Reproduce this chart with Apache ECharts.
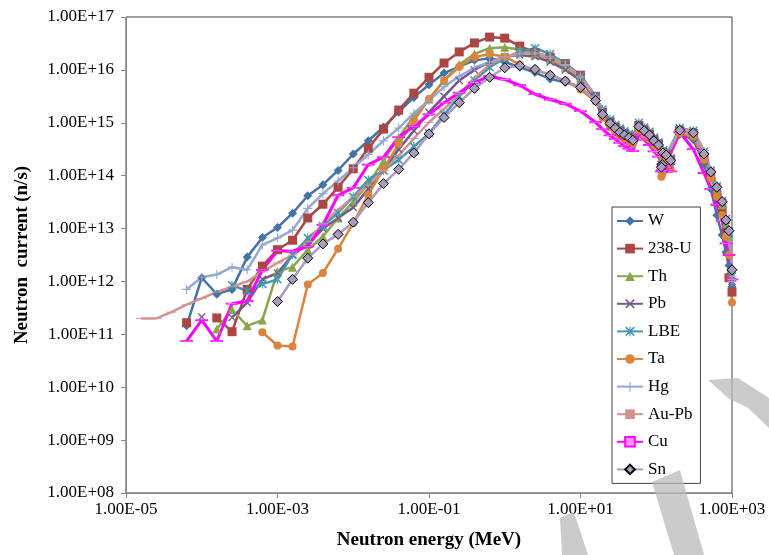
<!DOCTYPE html>
<html>
<head>
<meta charset="utf-8">
<script src="https://cdn.jsdelivr.net/npm/echarts@6/dist/echarts.min.js"></script>
<style>html,body{margin:0;padding:0;background:#fff;}#c{width:769px;height:555px;}</style>
</head>
<body>
<div id="c"></div>
<script>
// Neutron energy (MeV) of each point
const energyMeV = [1.58e-5,2.51e-5,3.98e-5,6.31e-5,1.00e-4,1.58e-4,2.51e-4,3.98e-4,6.31e-4,1.00e-3,
  1.58e-3,2.51e-3,3.98e-3,6.31e-3,1.00e-2,1.58e-2,2.51e-2,3.98e-2,6.31e-2,0.100,
  0.158,0.251,0.398,0.631,1.00,1.58,2.51,3.98,6.31,10.0,15.8,
  19.5,24.5,28.8,33.1,38.0,43.7,49.0,58.9,69.2,81.3,93.3,107,123,135,155,120,117,204,309,427,525,631,741,832,912,1000];

// Neutron current, stored as log10(n/s)
const W_log10 = [null,null,null,11.16,12.07,11.76,11.85,12.46,12.83,13.02,13.29,13.62,13.83,14.10,14.41,14.66,14.92,15.2,15.48,15.72,15.94,16.06,16.18,16.22,16.15,16.05,15.95,15.83,15.76,15.68,15.42,
  15.12,14.96,14.87,14.79,14.74,14.69,14.65,14.9,14.82,14.74,14.63,14.54,14.38,14.33,14.22,14.12,14.08,14.78,14.68,14.22,13.75,13.25,12.88,12.55,12.3,11.9];
const U238_log10 = [null,null,null,11.22,null,11.31,11.05,11.85,12.29,12.6,12.78,13.2,13.46,13.78,14.13,14.52,14.88,15.24,15.56,15.86,16.13,16.34,16.51,16.62,16.6,16.45,16.33,16.24,16.12,15.9,15.5,
  15.2,15.02,14.92,14.85,14.8,14.75,14.7,14.95,14.87,14.79,14.68,14.6,14.45,14.4,14.3,14.2,14.15,14.85,14.8,14.35,13.98,13.65,13.35,12.9,12.07,11.8];
const Th_log10 = [null,null,null,null,null,11.10,11.47,11.16,11.27,12.19,12.27,12.6,12.85,13.2,13.5,13.85,14.28,14.72,15.12,15.45,15.8,16.1,16.3,16.41,16.43,16.38,16.3,16.2,16.05,15.85,15.5,
  15.22,15.03,14.93,14.86,14.8,14.75,14.71,14.97,14.88,14.8,14.7,14.6,14.46,14.4,14.3,14.22,14.17,14.88,14.83,14.42,14.05,13.75,13.45,13.1,12.85,12.1];
const Pb_log10 = [null,null,null,null,11.33,null,11.32,11.6,12.04,12.16,12.5,12.7,13.0,13.2,13.4,13.75,14.1,14.5,14.85,15.2,15.5,15.8,16.0,16.15,16.25,16.28,16.25,16.15,16.0,15.8,15.45,
  15.18,15.0,14.9,14.83,14.78,14.73,14.68,14.94,14.86,14.78,14.67,14.58,14.44,14.38,14.28,14.2,14.15,14.87,14.82,14.42,14.08,13.78,13.5,13.15,12.9,12.0];
const LBE_log10 = [null,null,null,null,null,null,11.93,11.82,11.95,12.04,12.51,12.82,13.05,13.3,13.6,13.92,14.1,14.3,14.55,14.8,15.15,15.5,15.8,16.05,16.22,16.35,16.41,16.3,16.12,15.88,15.5,
  15.25,15.06,14.96,14.89,14.84,14.79,14.74,15.0,14.91,14.83,14.72,14.63,14.48,14.43,14.33,14.25,14.2,14.9,14.85,14.45,14.1,13.8,13.52,13.18,12.95,12.1];
const Ta_log10 = [null,null,null,null,null,null,null,null,11.04,10.79,10.77,11.94,12.16,12.62,13.1,13.64,14.13,14.6,15.04,15.45,15.8,16.06,16.24,16.30,16.25,16.1,16.0,15.91,15.79,15.63,15.4,
  15.1,14.92,14.82,14.74,14.69,14.64,14.6,14.85,14.77,14.69,14.58,14.48,14.32,14.25,14.12,14.02,13.98,14.8,14.74,14.3,13.95,13.6,13.25,12.85,12.5,11.6];
const Hg_log10 = [null,null,null,11.85,12.08,12.13,12.27,12.22,12.69,12.82,12.97,13.38,13.66,13.9,14.15,14.4,14.66,14.9,15.18,15.42,15.68,15.88,16.04,16.15,16.25,16.3,16.32,16.25,16.1,15.88,15.5,
  15.2,15.02,14.92,14.85,14.8,14.75,14.7,14.95,14.87,14.79,14.68,14.6,14.45,14.4,14.3,14.22,14.18,14.88,14.84,14.45,14.1,13.8,13.5,13.15,12.9,12.0];
const AuPb_log10 = [11.3,11.3,11.42,11.56,11.68,11.8,11.9,12.0,12.18,12.35,12.5,12.75,13.1,13.35,13.6,13.82,14.1,14.38,14.7,15.01,15.26,15.54,15.85,16.1,16.25,16.32,16.3,16.22,16.08,15.85,15.48,
  15.18,15.0,14.9,14.83,14.78,14.73,14.68,14.93,14.85,14.77,14.66,14.57,14.43,14.37,14.27,14.2,14.15,14.88,14.85,14.48,14.12,13.82,13.55,13.2,12.95,12.1];
const Cu_log10 = [null,null,null,10.87,11.27,10.87,11.58,11.63,12.22,12.58,12.57,12.66,13.07,13.63,13.77,14.21,14.35,14.73,14.93,15.16,15.38,15.57,15.76,15.88,15.82,15.71,15.54,15.44,15.36,15.22,15.01,
  14.88,14.76,14.69,14.62,14.56,14.51,14.47,14.77,14.68,14.58,14.46,14.36,14.22,14.15,14.08,14.1,14.08,14.82,14.5,14.05,13.75,13.45,13.15,12.72,12.5,12.04];
const Sn_log10 = [null,null,null,null,null,null,null,null,null,11.62,12.04,12.44,12.71,12.89,13.12,13.49,13.85,14.12,14.43,14.79,15.10,15.38,15.65,15.86,16.04,16.08,16.01,15.90,15.79,15.67,15.42,
  15.16,14.99,14.90,14.82,14.77,14.72,14.67,14.93,14.85,14.77,14.66,14.58,14.43,14.39,14.29,14.21,14.16,14.86,14.81,14.41,14.07,13.78,13.51,13.16,12.96,12.22];

const seriesNames = ['W','238-U','Th','Pb','LBE','Ta','Hg','Au-Pb','Cu','Sn'];
const xTickLabels = ['1.00E-05','1.00E-03','1.00E-01','1.00E+01','1.00E+03'];
const yTickLabels = ['1.00E+08','1.00E+09','1.00E+10','1.00E+11','1.00E+12','1.00E+13','1.00E+14','1.00E+15','1.00E+16','1.00E+17'];

const seriesValues = [W_log10,U238_log10,Th_log10,Pb_log10,LBE_log10,Ta_log10,Hg_log10,AuPb_log10,Cu_log10,Sn_log10];

const X_PATH = 'path://M0,1.2L1.2,0L5,3.8L8.8,0L10,1.2L6.2,5L10,8.8L8.8,10L5,6.2L1.2,10L0,8.8L3.8,5Z';
const STAR_PATH = 'path://M0,1.2L1.2,0L5,3.8L8.8,0L10,1.2L6.2,5L10,8.8L8.8,10L5,6.2L1.2,10L0,8.8L3.8,5Z M4.4,0L5.6,0L5.6,10L4.4,10Z';
const PLUS_PATH = 'path://M4.4,0L5.6,0L5.6,4.4L10,4.4L10,5.6L5.6,5.6L5.6,10L4.4,10L4.4,5.6L0,5.6L0,4.4L4.4,4.4Z';
const DASH_PATH = 'path://M0,0L10,0L10,3L0,3Z';

const styles = [
  {color:'#4572A7', symbol:'diamond', size:9},
  {color:'#AA4643', symbol:'rect', size:9},
  {color:'#89A54E', symbol:'triangle', size:9},
  {color:'#71588F', symbol:X_PATH, size:8},
  {color:'#4198AF', symbol:STAR_PATH, size:9},
  {color:'#DB843D', symbol:'circle', size:8},
  {color:'#93A9CF', symbol:PLUS_PATH, size:9},
  {color:'#D19392', symbol:DASH_PATH, size:[10,3]},
  {color:'#FF00FF', symbol:DASH_PATH, size:[11,4], fill:'#FF99FF', border:'#FF00FF', width:3},
  {color:'#A99BBD', symbol:'diamond', size:10, fill:'#A99BBD', border:'#000000'}
];

function expLabel(v){
  const e = Math.round(Math.log10(v));
  const a = Math.abs(e);
  return '1.00E' + (e < 0 ? '-' : '+') + (a < 10 ? '0' + a : '' + a);
}

const series = seriesNames.map((name, k) => {
  const st = styles[k];
  const vals = seriesValues[k];
  const data = energyMeV.map((x, i) => vals[i] == null ? [x, '-'] : [x, Math.pow(10, vals[i])]);
  return {
    name: name,
    type: 'line',
    data: data,
    connectNulls: false,
    symbol: st.symbol,
    symbolSize: st.size,
    symbolKeepAspect: true,
    showAllSymbol: true,
    lineStyle: {color: st.color, width: st.width || 2.5},
    itemStyle: {color: st.fill || st.color, borderColor: st.border || st.color, borderWidth: st.border ? 1 : 0},
    emphasis: {disabled: true},
    animation: false
  };
});

// light grey watermark strokes seen in the lower right of the reference image
const wm = 'rgba(185,185,185,0.75)';

const chart = echarts.init(document.getElementById('c'), null, {renderer: 'canvas'});
const FONT = 'Liberation Serif';
chart.setOption({
  backgroundColor: '#fff',
  animation: false,
  grid: {left: 126, right: 37, top: 17, bottom: 58, show: true, borderColor: '#404040', borderWidth: 1},
  xAxis: {
    type: 'log', logBase: 10, min: 1e-5, max: 1e3, interval: 2,
    name: 'Neutron energy (MeV)', nameLocation: 'middle', nameGap: 38,
    nameTextStyle: {fontFamily: FONT, fontSize: 19, fontWeight: 'bold', color: '#000'},
    axisLine: {show: true, lineStyle: {color: '#868686', width: 1}},
    axisTick: {show: true, inside: false, length: 5, lineStyle: {color: '#868686'}},
    minorTick: {show: false},
    splitLine: {show: false},
    axisLabel: {fontFamily: FONT, fontSize: 17, color: '#000', margin: 8,
      formatter: v => { const s = expLabel(v); return xTickLabels.indexOf(s) >= 0 ? s : ''; }}
  },
  yAxis: {
    type: 'log', logBase: 10, min: 1e8, max: 1e17, interval: 1,
    name: 'Neutron  current (n/s)', nameLocation: 'middle', nameGap: 94,
    nameTextStyle: {fontFamily: FONT, fontSize: 19, fontWeight: 'bold', color: '#000'},
    axisLine: {show: true, lineStyle: {color: '#868686', width: 1}},
    axisTick: {show: true, inside: false, length: 5, lineStyle: {color: '#868686'}},
    splitLine: {show: false},
    axisLabel: {fontFamily: FONT, fontSize: 17, color: '#000', margin: 12,
      formatter: v => { const s = expLabel(v); return yTickLabels.indexOf(s) >= 0 ? s : ''; }}
  },
  legend: {
    orient: 'vertical', left: 612, top: 207,
    padding: [5, 8, 5, 4], itemGap: 9.6, itemWidth: 26, itemHeight: 12,
    backgroundColor: '#fff', borderColor: '#404040', borderWidth: 1,
    textStyle: {fontFamily: FONT, fontSize: 17, color: '#000', lineHeight: 18},
    data: seriesNames
  },
  graphic: [
    {type: 'polygon', silent: true, z: 100, shape: {points: [[708,380],[738,378],[769,398],[769,428],[748,408],[728,398]]}, style: {fill: wm}},
    {type: 'polygon', silent: true, z: 100, shape: {points: [[652,482],[680,470],[704,555],[674,555]]}, style: {fill: wm}},
    {type: 'polygon', silent: true, z: 100, shape: {points: [[560,518],[574,512],[588,555],[562,555]]}, style: {fill: wm}}
  ],
  series: series
});
</script>
</body>
</html>
